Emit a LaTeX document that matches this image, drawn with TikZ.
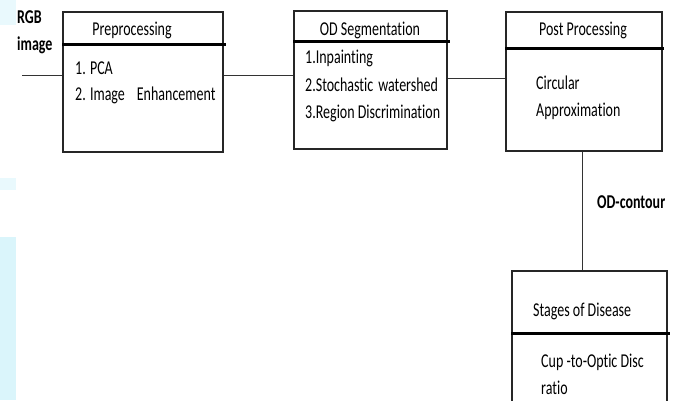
\documentclass[tikz,border=0pt]{standalone}
\usepackage{fontspec}
\setmainfont{Carlito}[Ligatures=NoCommon]
\usepackage{graphicx}
\newcommand{\tallt}[1]{\scalebox{1}[1.4]{#1}}
\definecolor{slideblue}{HTML}{DAF5FB}
\begin{document}
\begin{tikzpicture}[x=1pt, y=-1pt]
	\tikzstyle{stage} = [draw=black!85, line width=1.2pt]
	\tikzstyle{bar} = [line width=3.6pt, black]
	\tikzstyle{link} = [draw=black!80, line width=1pt]
	\tikzstyle{txt} = [font=\fontsize{14}{16}\selectfont, inner sep=0pt]
	\tikzstyle{item} = [txt, anchor=west]
	\clip (0,0) rectangle (675,400);
	\fill[slideblue] (0,237) rectangle (16,400);
	\fill[slideblue!60] (0,178) rectangle (16,190);
	\fill[slideblue!60] (0,0) rectangle (16,25);
	
	\node[stage, minimum width=160pt, minimum height=140pt](pre)at (143,82){};
	\node[stage, minimum width=153pt, minimum height=138pt](seg)at (370.5,80){};
	\node[stage, minimum width=156pt, minimum height=139pt](post)at (584,81.5){};
	\node[stage, minimum width=155pt, minimum height=140pt](stg)at (589.5,341){};
	
	\draw[bar] ([yshift=-33pt]pre.north west) -- ([xshift=2pt,yshift=-33pt]pre.north east);
	\draw[bar] ([yshift=-31pt]seg.north west) -- ([xshift=2pt,yshift=-31pt]seg.north east);
	\draw[bar] ([yshift=-37pt]post.north west) -- ([xshift=1pt,yshift=-37pt]post.north east);
	\draw[bar] ([yshift=-63pt]stg.north west) -- ([xshift=2pt,yshift=-63pt]stg.north east);
	
	\node[item, font=\fontsize{14}{16}\selectfont\bfseries](rgb)at (17,17){\tallt{RGB}};
	\node[item, font=\fontsize{14}{16}\selectfont\bfseries](img)at (17,45){\tallt{image}};
	\node[txt](pre-t)at (132,30){\tallt{Preprocessing}};
	\node[item](pre-1)at (75,68){\tallt{1. PCA}};
	\node[item](pre-2)at (75,95){\tallt{2. Image\hspace{12pt}Enhancement}};
	
	\node[txt](seg-t)at (370,30){\tallt{OD Segmentation}};
	\node[item](seg-1)at (305,58){\tallt{1.Inpainting}};
	\node[item](seg-2)at (305,85){\tallt{2.Stochastic\hspace{5pt}watershed}};
	\node[item](seg-3)at (305,113){\tallt{3.Region Discrimination}};
	
	\node[txt](post-t)at (583,30){\tallt{Post Processing}};
	\node[item](post-1)at (536,83){\tallt{Circular}};
	\node[item](post-2)at (536,111){\tallt{Approximation}};
	
	\node[item, font=\fontsize{14}{16}\selectfont\bfseries](odc)at (597,202){\tallt{OD-contour}};
	
	\node[item](stg-t)at (533,311){\tallt{Stages of Disease}};
	\node[item](stg-1)at (541,362){\tallt{Cup -to-Optic Disc}};
	\node[item](stg-2)at (541,388){\tallt{ratio}};
	
	\coordinate (in) at (22,75);
	\coordinate (mid) at (0,78);
	\path[link] (in) edge (in -| pre.west)
	(pre.east |- in) edge (seg.west |- in)
	(seg.east |- mid) edge (post.west |- mid)
	([xshift=-2pt]post.south) edge ([xshift=-2pt]post.south |- stg.north);
\end{tikzpicture}
\end{document}
